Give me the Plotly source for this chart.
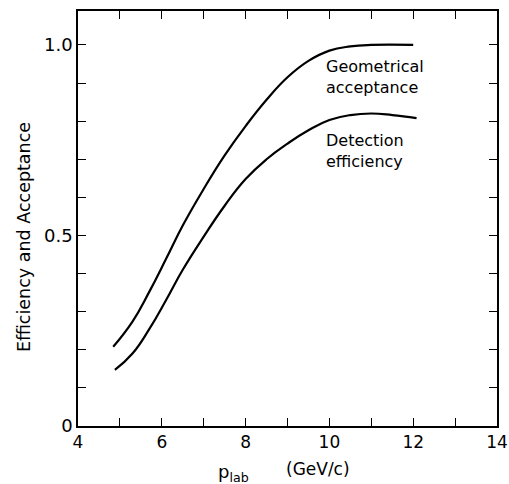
import plotly.graph_objects as go

# Data
p_geo = [4.84, 5.3, 5.7, 6.1, 6.5, 7.0, 7.5, 8.0, 8.5, 9.0, 9.5, 10.0, 10.5, 11.0, 12.0]
eff_geo = [0.208, 0.274, 0.352, 0.438, 0.526, 0.622, 0.71, 0.787, 0.856, 0.915, 0.958, 0.985, 0.996, 1.0, 1.0]

p_det = [4.88, 5.3, 5.7, 6.1, 6.5, 7.0, 7.5, 8.0, 8.5, 9.0, 9.5, 10.0, 10.5, 11.0, 11.5, 12.08]
eff_det = [0.147, 0.19, 0.254, 0.33, 0.41, 0.497, 0.578, 0.648, 0.7, 0.741, 0.776, 0.803, 0.816, 0.82, 0.816, 0.808]

x_ticks = [4, 6, 8, 10, 12, 14]
y_ticks = [0, 0.5, 1.0]
y_ticktext = ["0", "0.5", "1.0"]

FONT = "DejaVu Sans"

fig = go.Figure()
for xs, ys in ((p_geo, eff_geo), (p_det, eff_det)):
    fig.add_trace(go.Scatter(x=xs, y=ys, mode="lines",
                             line=dict(color="black", width=2.2, shape="spline", smoothing=1.3),
                             showlegend=False, hoverinfo="skip"))

fig.add_annotation(x=9.88, y=0.915, xref="x", yref="y", xanchor="left", yanchor="middle",
                   text="Geometrical<br>acceptance", showarrow=False, align="left",
                   font=dict(family=FONT, size=16, color="black"))
fig.add_annotation(x=9.86, y=0.722, xref="x", yref="y", xanchor="left", yanchor="middle",
                   text="Detection<br>efficiency", showarrow=False, align="left",
                   font=dict(family=FONT, size=16, color="black"))

# x-axis title: p_lab (GeV/c)
fig.add_annotation(x=0.37, y=-0.113, xref="paper", yref="paper", xanchor="center", yanchor="middle",
                   text="p<sub>lab</sub>", showarrow=False,
                   font=dict(family=FONT, size=18, color="black"))
fig.add_annotation(x=0.573, y=-0.104, xref="paper", yref="paper", xanchor="center", yanchor="middle",
                   text="(GeV/c)", showarrow=False,
                   font=dict(family=FONT, size=17, color="black"))

# y-axis title
fig.add_annotation(x=-0.129, y=0.455, xref="paper", yref="paper", xanchor="center", yanchor="middle",
                   text="Efficiency and Acceptance", textangle=-90, showarrow=False,
                   font=dict(family=FONT, size=17.5, color="black"))

fig.update_layout(
    width=509, height=484,
    margin=dict(l=78, r=12, t=11, b=58, autoexpand=False),
    paper_bgcolor="white", plot_bgcolor="white",
    font=dict(family=FONT, size=16, color="black"),
)
fig.update_xaxes(range=[4, 14], tickvals=x_ticks, ticks="inside", ticklen=8, tickwidth=1.2,
                 showline=True, linecolor="black", linewidth=1.5, mirror="ticks",
                 showgrid=False, zeroline=False, automargin=False,
                 minor=dict(dtick=1, ticks="inside", ticklen=8, tickwidth=1.2, tickcolor="black"),
                 tickfont=dict(family=FONT, size=17), tickcolor="black")
fig.update_yaxes(range=[0, 1.089], tickvals=y_ticks, ticktext=y_ticktext, ticks="inside",
                 ticklen=8, tickwidth=1.2,
                 showline=True, linecolor="black", linewidth=1.5, mirror="ticks",
                 showgrid=False, zeroline=False, automargin=False,
                 minor=dict(dtick=0.1, tick0=0, ticks="inside", ticklen=8, tickwidth=1.2, tickcolor="black"),
                 tickfont=dict(family=FONT, size=18), tickcolor="black")

fig.write_html("out.html")
